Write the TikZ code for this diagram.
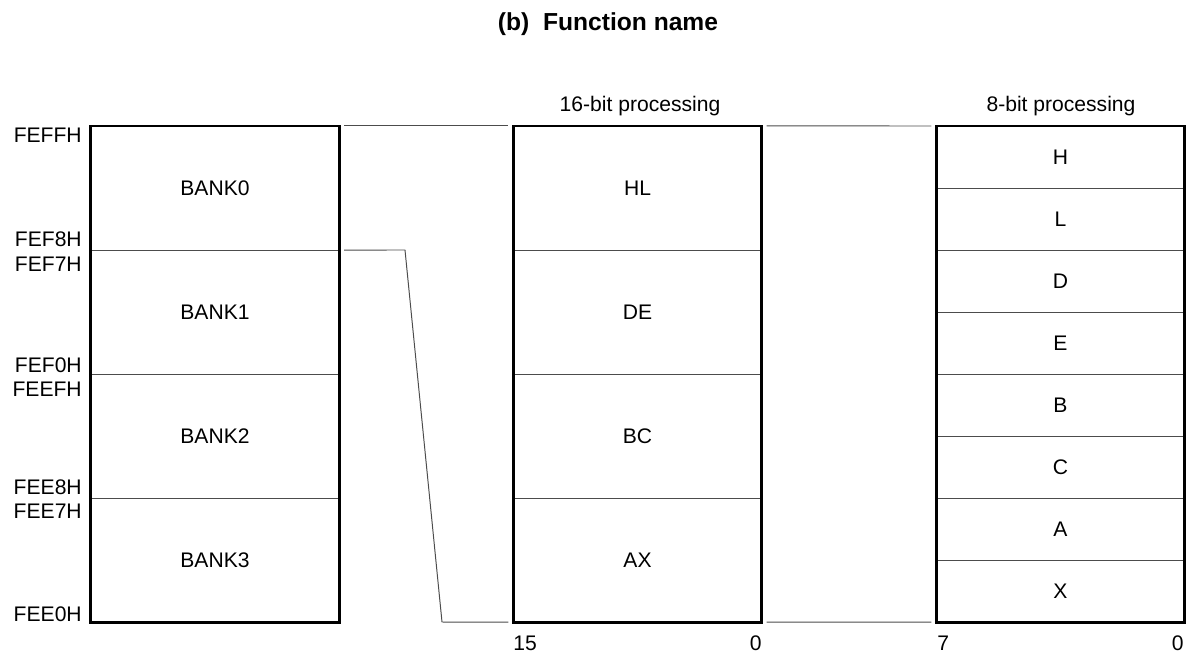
\documentclass[tikz,border=0pt]{standalone}
\usepackage{fontspec}
\setmainfont{Liberation Sans}
\usetikzlibrary{positioning}

\begin{document}
\begin{tikzpicture}[x=0.025cm,y=-0.025cm,font=\fontsize{15}{17}\selectfont,
    bigcell/.style={draw=black!70,line width=0.7pt,inner sep=0pt,outer sep=0pt,minimum width=6.2cm,minimum height=3.1cm},
    smallcell/.style={draw=black!70,line width=0.7pt,inner sep=0pt,outer sep=0pt,minimum width=6.2cm,minimum height=1.55cm},
    frame/.style={draw=black,line width=2.1pt},
    addr/.style={anchor=base east,inner sep=0pt},
    link/.style={draw=black!70,line width=0.7pt,shorten <=0.125cm,shorten >=0.125cm}]
  \useasboundingbox (0,0) rectangle (1193,658);

  \node[font=\fontsize{17.5}{20}\selectfont\bfseries,anchor=base](title) at (608,30){(b)\ \ Function name};

  % register banks
  \node[bigcell](bank0) at (215,188){BANK0};
  \node[bigcell,below=0pt of bank0](bank1){BANK1};
  \node[bigcell,below=0pt of bank1](bank2){BANK2};
  \node[bigcell,below=0pt of bank2](bank3){BANK3};
  \draw[frame] (bank0.north west) rectangle (bank3.south east);

  \node[addr](fefff) at (82,142){FEFFH};
  \node[addr](fef8) at (82,246){FEF8H};
  \node[addr](fef7) at (82,271){FEF7H};
  \node[addr](fef0) at (82,372){FEF0H};
  \node[addr](feef) at (82,396){FEEFH};
  \node[addr](fee8) at (82,494){FEE8H};
  \node[addr](fee7) at (82,518){FEE7H};
  \node[addr](fee0) at (82,621){FEE0H};

  % 16-bit processing
  \node[anchor=base](head16) at (640,111){16-bit processing};
  \node[bigcell](reghl) at (637.5,188){HL};
  \node[bigcell,below=0pt of reghl](regde){DE};
  \node[bigcell,below=0pt of regde](regbc){BC};
  \node[bigcell,below=0pt of regbc](regax){AX};
  \draw[frame] (reghl.north west) rectangle (regax.south east);
  \node[anchor=base west,inner sep=0pt](bit15) at (513,650){15};
  \node[anchor=base east,inner sep=0pt](bit0a) at (762,650){0};

  % 8-bit processing
  \node[anchor=base](head8) at (1061,111){8-bit processing};
  \node[smallcell](regh) at (1060.5,157){H};
  \node[smallcell,below=0pt of regh](regl){L};
  \node[smallcell,below=0pt of regl](regd){D};
  \node[smallcell,below=0pt of regd](rege){E};
  \node[smallcell,below=0pt of rege](regb){B};
  \node[smallcell,below=0pt of regb](regc){C};
  \node[smallcell,below=0pt of regc](rega){A};
  \node[smallcell,below=0pt of rega](regx){X};
  \draw[frame] (regh.north west) rectangle (regx.south east);
  \node[anchor=base west,inner sep=0pt](bit7) at (937,650){7};
  \node[anchor=base east,inner sep=0pt](bit0b) at (1184,650){0};

  % connecting lines
  \coordinate (bendtop) at (405,250);
  \coordinate (bendbot) at (442,622);
  \draw[link] (bank0.north east) -- (reghl.north west);
  \draw[link] (bank1.north east) -- (bendtop) -- (bendbot) -- (regax.south west);
  \draw[link] (reghl.north east) -- (regh.north west);
  \draw[link] (regax.south east) -- (regx.south west);
\end{tikzpicture}
\end{document}
